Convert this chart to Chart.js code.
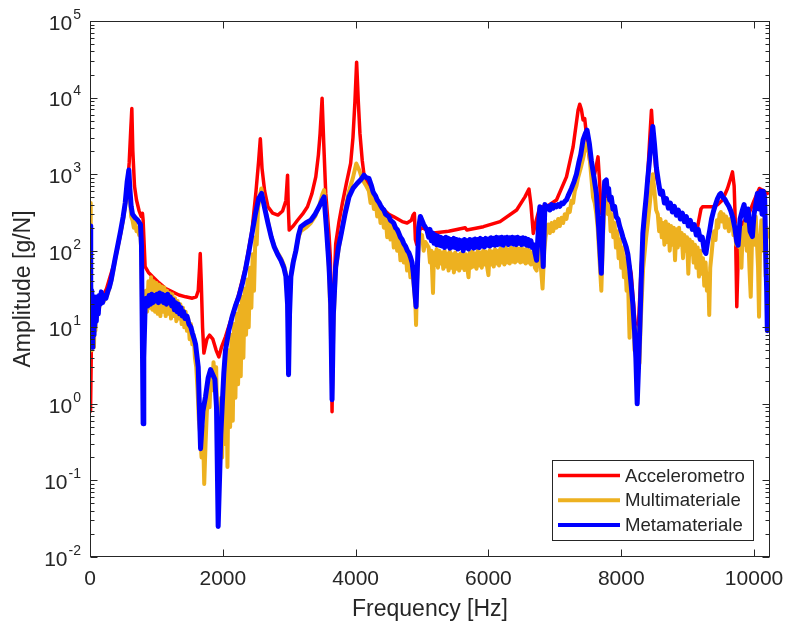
<!DOCTYPE html>
<html>
<head>
<meta charset="utf-8">
<script src="https://cdn.jsdelivr.net/npm/chart.js@4.4.1/dist/chart.umd.min.js"></script>
<style>
  html, body { margin: 0; padding: 0; background: #fff; }
</style>
</head>
<body>
<canvas id="myChart" width="785" height="628"></canvas>
<script>
// [frequency Hz, amplitude g/N]
const accData = [
  [2, 2], [8, 0.8], [20, 5], [35, 20], [60, 22], [100, 22], [150, 24], [200, 26], [250, 32], [300, 45], [350, 62], [400, 95], [450, 150], [500, 260], [550, 520], [590, 1400], [615, 4000], [630, 7200], [645, 2000], [670, 700], [700, 460], [740, 330], [770, 280], [790, 307], [800, 250], [830, 62],
  [880, 52], [940, 46], [1040, 38], [1140, 32], [1240, 29], [1340, 26.4], [1440, 25], [1540, 24], [1600, 25], [1630, 30], [1650, 60], [1660, 92], [1675, 40], [1695, 10], [1715, 4.6], [1760, 7], [1800, 7.9], [1850, 7], [1900, 5], [1940, 4.1], [1980, 5.5], [2040, 7.5],
  [2140, 14], [2240, 27], [2340, 60], [2440, 186], [2500, 600], [2540, 1500], [2565, 2900], [2590, 1200], [2630, 600], [2680, 375], [2750, 310], [2830, 292], [2900, 330], [2950, 450], [2975, 970], [2985, 400], [3000, 186], [3060, 210], [3125, 250], [3200, 300], [3275, 375], [3340, 550],
  [3400, 920], [3440, 1800], [3465, 3400], [3495, 9800], [3520, 2500], [3550, 560], [3600, 160], [3620, 80], [3645, 0.79], [3665, 20], [3700, 123], [3750, 240], [3800, 415], [3860, 750], [3925, 1380], [3960, 3000], [3990, 9000], [4015, 29000], [4040, 9000], [4065, 3400], [4100, 1500],
  [4125, 1000], [4200, 700], [4300, 480], [4400, 360], [4500, 300], [4575, 277], [4700, 240], [4775, 230], [4840, 250], [4865, 292], [4885, 307], [4900, 140], [4920, 120], [4950, 180], [5000, 200], [5175, 170], [5400, 180], [5650, 200], [5675, 186], [5925, 206], [6175, 240], [6425, 340],
  [6550, 505], [6610, 640], [6640, 400], [6675, 168], [6720, 250], [6775, 375], [6875, 375], [7025, 460], [7175, 920], [7275, 2270], [7350, 6840], [7375, 8200], [7400, 7000], [7425, 5100], [7450, 5300], [7480, 3000], [7525, 1500], [7600, 1000], [7650, 1680], [7670, 900], [7700, 307],
  [7750, 600], [7850, 400], [7950, 250], [8050, 130], [8150, 50], [8240, 5], [8300, 60], [8380, 500], [8430, 3000], [8455, 6840], [8480, 3000], [8530, 920], [8600, 550], [8700, 400], [8850, 300], [9000, 230], [9100, 190], [9150, 206], [9200, 350], [9225, 375], [9375, 375], [9450, 400],
  [9525, 460], [9600, 650], [9650, 900], [9675, 1070], [9700, 700], [9720, 200], [9740, 18.6], [9760, 80], [9800, 206], [9925, 307], [10000, 450], [10080, 650], [10150, 600], [10200, 560]
];

const multiData = [
  [3, 420], [8, 30], [14, 8], [20, 25], [27, 5], [34, 20], [42, 7], [50, 22], [60, 5.5], [70, 18], [82, 9], [95, 20], [110, 14], [125, 22], [140, 18], [155, 25], [170, 22], [190, 24], [210, 22], [240, 25], [270, 28], [290, 32], [320, 40], [350, 55], [380, 78], [420, 115], [460, 170],
  [500, 260], [530, 400], [560, 700], [585, 900], [600, 500], [620, 280], [640, 250], [660, 200], [680, 230], [700, 180], [720, 200], [740, 160], [760, 170], [775, 80], [790, 8], [805, 3], [820, 15],
  [840, 30], [860, 16], [880, 40], [900, 18], [920, 45], [940, 17], [960, 40], [980, 16], [1000, 38], [1020, 15], [1040, 36], [1060, 14], [1080, 34], [1100, 16], [1120, 33], [1140, 14], [1160, 30], [1180, 15], [1200, 28], [1220, 13], [1240, 27], [1260, 14], [1280, 24], [1300, 12],
  [1320, 22], [1340, 13], [1360, 20], [1380, 11], [1400, 18], [1420, 10], [1440, 16], [1460, 9], [1480, 13], [1500, 7], [1520, 11], [1540, 6], [1560, 8], [1580, 4], [1600, 3],
  [1620, 1.5], [1640, 0.6], [1660, 0.4], [1680, 0.2], [1700, 0.5], [1720, 0.09], [1740, 0.3], [1760, 0.8], [1780, 1.5], [1800, 0.9], [1820, 2.5], [1840, 1.5], [1860, 3.5], [1880, 2], [1900, 3], [1915, 0.6], [1935, 0.2], [1955, 0.3], [1975, 1.2], [1990, 0.2], [2010, 2], [2030, 0.3],
  [2050, 3.5], [2070, 0.15], [2090, 5], [2110, 0.5], [2130, 8], [2150, 0.6], [2170, 11], [2190, 1.2], [2210, 15], [2230, 1.8], [2250, 19], [2270, 2.3], [2290, 25], [2310, 4], [2330, 32], [2350, 8], [2370, 42], [2390, 10], [2410, 60], [2430, 18], [2450, 90], [2470, 30], [2490, 150],
  [2510, 120], [2530, 350], [2555, 500], [2580, 650], [2630, 380], [2680, 240], [2730, 150], [2775, 115], [2825, 95], [2875, 80], [2920, 65], [2950, 50], [2975, 25], [2990, 5], [3010, 25], [3030, 50], [3060, 75], [3100, 100], [3140, 150], [3175, 180], [3250, 200], [3325, 230],
  [3390, 280], [3450, 380], [3500, 550], [3525, 620], [3560, 250], [3600, 50], [3625, 10], [3645, 1.5], [3665, 10], [3700, 55], [3740, 100], [3775, 150], [3840, 330], [3900, 600], [3960, 900], [4010, 1380], [4060, 1100], [4100, 850], [4160, 700], [4200, 600],
  [4225, 420], [4250, 550], [4275, 350], [4300, 480], [4325, 280], [4350, 390], [4375, 230], [4400, 330], [4425, 200], [4450, 300], [4475, 150], [4500, 250], [4525, 140], [4550, 215], [4575, 110], [4600, 190], [4625, 100], [4650, 150], [4675, 75], [4700, 120], [4725, 70], [4750, 100],
  [4775, 55], [4800, 80], [4825, 45], [4850, 60], [4875, 35], [4900, 20], [4910, 10.7], [4925, 40], [4940, 80], [4960, 180], [4975, 150], [5000, 160], [5025, 100], [5050, 130], [5075, 120],
  [5100, 110], [5120, 70], [5140, 100], [5165, 28], [5180, 95], [5200, 65], [5220, 105], [5240, 60], [5260, 100], [5280, 68], [5300, 95], [5320, 58], [5340, 100], [5360, 62], [5380, 92], [5400, 55], [5420, 98], [5440, 60], [5460, 90], [5480, 52], [5500, 95], [5520, 58], [5540, 88],
  [5560, 55], [5580, 92], [5600, 60], [5620, 95], [5640, 56], [5660, 90], [5680, 62], [5700, 45], [5720, 95], [5740, 60], [5760, 98], [5780, 62], [5800, 92], [5820, 58], [5840, 100], [5860, 64], [5880, 95], [5900, 60], [5920, 100], [5940, 66], [5960, 98], [5980, 62], [6000, 48],
  [6020, 102], [6040, 66], [6060, 98], [6080, 62], [6100, 105], [6120, 68], [6140, 100], [6160, 64], [6180, 108], [6200, 70], [6220, 102], [6240, 66], [6260, 110], [6280, 70], [6300, 104], [6320, 68], [6340, 110], [6360, 72], [6380, 106], [6400, 70], [6420, 112], [6440, 74],
  [6460, 106], [6480, 70], [6500, 110], [6520, 72], [6540, 104], [6560, 68], [6580, 108], [6600, 70], [6620, 100], [6640, 66], [6660, 95], [6680, 80], [6700, 60], [6725, 55], [6745, 90], [6760, 130], [6790, 60], [6815, 32], [6840, 100], [6860, 150],
  [6875, 180], [6900, 220], [6925, 170], [6950, 230], [6975, 180], [7000, 240], [7025, 200], [7050, 260], [7075, 210], [7100, 270], [7125, 230], [7150, 300], [7175, 260], [7200, 350], [7225, 320], [7250, 450], [7275, 420], [7300, 600], [7325, 700], [7350, 900], [7390, 1200],
  [7425, 1600], [7460, 2200], [7485, 2500], [7520, 1800], [7550, 900], [7575, 500], [7600, 420], [7625, 300], [7645, 200], [7660, 120], [7680, 60], [7700, 30], [7725, 150], [7750, 450], [7775, 460],
  [7800, 300], [7820, 380], [7840, 180], [7860, 300], [7880, 150], [7900, 230], [7920, 110], [7940, 180], [7960, 80], [7980, 140], [8000, 60], [8020, 110], [8040, 45], [8060, 80], [8080, 30], [8100, 50], [8115, 15], [8125, 7.3], [8140, 25], [8160, 10], [8180, 18], [8200, 5],
  [8220, 10], [8240, 4], [8260, 8], [8275, 3.4], [8290, 10], [8310, 25], [8330, 60], [8350, 90], [8375, 150], [8400, 230], [8440, 500], [8475, 1000], [8500, 600], [8525, 340],
  [8550, 300], [8570, 180], [8590, 260], [8610, 150], [8630, 230], [8650, 120], [8670, 240], [8690, 130], [8710, 220], [8730, 100], [8750, 210], [8770, 120], [8790, 200], [8810, 75], [8830, 190], [8850, 110], [8870, 200], [8890, 120], [8910, 170], [8930, 80], [8950, 160], [8970, 100],
  [8990, 150], [9010, 50], [9030, 140], [9050, 90], [9070, 130], [9090, 70], [9110, 120], [9130, 60], [9150, 110], [9170, 46], [9190, 100], [9210, 50], [9230, 80], [9250, 35], [9270, 70], [9290, 30], [9310, 50], [9325, 14.5], [9340, 60], [9360, 90], [9380, 140], [9400, 180],
  [9420, 138], [9440, 250], [9460, 200], [9480, 300], [9500, 320], [9520, 240], [9540, 300], [9560, 200], [9580, 280], [9600, 240], [9620, 180], [9640, 260], [9660, 200], [9675, 280], [9690, 160], [9710, 220], [9730, 120], [9750, 200], [9775, 112], [9790, 180], [9810, 60],
  [9830, 200], [9850, 120], [9870, 230], [9890, 100], [9910, 200], [9930, 60], [9950, 25], [9970, 150], [9990, 250], [10010, 120], [10025, 280], [10040, 150], [10060, 60], [10075, 13.7], [10090, 120], [10110, 250], [10125, 230], [10140, 100], [10160, 300], [10175, 46], [10190, 200], [10200, 150]
];

const metaData = [
  [3, 210], [8, 12], [14, 40], [20, 6], [27, 30], [34, 5.5], [42, 22], [50, 8], [60, 25], [70, 10], [82, 22], [95, 12], [110, 25], [125, 15], [140, 26], [155, 20], [170, 29], [190, 21], [210, 26], [240, 24], [270, 30], [290, 33], [320, 42], [350, 58], [380, 80], [420, 120], [460, 180],
  [500, 280], [530, 420], [560, 800], [585, 1130], [600, 650], [620, 380], [640, 300], [680, 270], [720, 250], [760, 220], [775, 120], [790, 5], [800, 0.55], [810, 4],
  [830, 18.6], [850, 24], [870, 19], [890, 26], [910, 20], [930, 27], [950, 21], [970, 26], [990, 22], [1010, 27], [1030, 21], [1050, 28], [1070, 22], [1090, 27], [1110, 21], [1130, 26], [1150, 20], [1170, 27], [1190, 21], [1210, 25], [1230, 19], [1250, 23], [1270, 17], [1290, 21],
  [1310, 16], [1330, 20], [1350, 15], [1370, 18], [1390, 14], [1410, 16], [1430, 13], [1460, 14], [1490, 11], [1520, 10], [1540, 8.5], [1570, 7], [1590, 6], [1630, 3], [1665, 0.26], [1700, 0.8], [1740, 1.25], [1780, 2.2], [1815, 2.8], [1850, 2.4], [1880, 2.1], [1905, 0.9],
  [1930, 0.025], [1950, 0.1], [1970, 0.4], [1990, 0.92], [2015, 2.5], [2040, 5], [2090, 9], [2140, 13.7], [2190, 19], [2240, 25], [2290, 36], [2340, 56], [2390, 95], [2440, 168], [2490, 300], [2540, 480], [2585, 560], [2630, 360], [2680, 228], [2730, 150], [2775, 112], [2825, 90],
  [2875, 75], [2920, 60], [2950, 46], [2975, 20], [2990, 2.4], [3005, 15], [3025, 46], [3060, 70], [3100, 100], [3140, 160], [3175, 206], [3250, 230], [3325, 250], [3390, 300], [3450, 375], [3500, 460], [3525, 505], [3560, 200], [3600, 62], [3625, 20], [3645, 1.13], [3665, 15],
  [3700, 62], [3740, 110], [3775, 153], [3840, 300], [3900, 505], [3960, 650], [4025, 760], [4080, 850], [4125, 970], [4160, 900], [4200, 880], [4240, 700], [4260, 600], [4275, 560], [4300, 520], [4325, 460], [4350, 430], [4375, 390], [4400, 360], [4425, 340], [4450, 300],
  [4475, 290], [4500, 280], [4525, 250], [4550, 240], [4575, 228], [4600, 200], [4625, 190], [4650, 170], [4675, 150], [4700, 140], [4725, 124], [4750, 115], [4780, 100], [4800, 95], [4825, 83], [4850, 70], [4870, 50], [4890, 30], [4910, 18.6], [4930, 60], [4950, 200], [4975, 280],
  [5025, 220], [5075, 186], [5100, 150], [5120, 190], [5140, 135], [5160, 170], [5180, 125], [5200, 160], [5220, 120], [5240, 155], [5260, 118], [5280, 150], [5300, 115], [5320, 145], [5340, 110], [5360, 150], [5380, 115], [5400, 145], [5420, 108], [5440, 140], [5460, 112],
  [5480, 145], [5500, 110], [5520, 140], [5540, 105], [5560, 138], [5580, 110], [5600, 135], [5620, 100], [5640, 140], [5660, 110], [5680, 135], [5700, 105], [5720, 140], [5740, 112], [5760, 138], [5780, 108], [5800, 142], [5820, 112], [5840, 140], [5860, 110], [5880, 145],
  [5900, 115], [5920, 140], [5940, 112], [5960, 145], [5980, 118], [6000, 142], [6020, 115], [6040, 148], [6060, 120], [6080, 145], [6100, 118], [6120, 150], [6140, 120], [6160, 148], [6180, 122], [6200, 150], [6220, 118], [6240, 148], [6260, 125], [6280, 150], [6300, 120],
  [6320, 148], [6340, 125], [6360, 150], [6380, 122], [6400, 148], [6420, 120], [6440, 150], [6460, 125], [6480, 145], [6500, 120], [6520, 148], [6540, 122], [6560, 145], [6580, 118], [6600, 140], [6620, 115], [6640, 135], [6660, 110], [6680, 120], [6700, 95], [6725, 75],
  [6760, 250], [6775, 375], [6800, 200], [6825, 62], [6850, 400], [6875, 350], [6900, 380], [6925, 340], [6950, 400], [6975, 360], [7000, 390], [7025, 375], [7050, 400], [7075, 380], [7100, 420], [7125, 410], [7150, 440], [7175, 460], [7200, 520], [7250, 650], [7290, 800],
  [7325, 1000], [7360, 1400], [7390, 1800], [7425, 2800], [7460, 3400], [7485, 3750], [7520, 2500], [7550, 1500], [7590, 900], [7625, 560], [7660, 200], [7700, 50.6], [7725, 300], [7750, 800], [7775, 840], [7790, 600], [7810, 650], [7825, 460], [7850, 500], [7875, 350],
  [7900, 380], [7925, 277], [7950, 260], [7975, 210], [8000, 180], [8025, 150], [8050, 130], [8075, 112], [8100, 90], [8125, 60], [8150, 35], [8175, 20], [8200, 9], [8220, 4], [8240, 1.0], [8260, 3], [8280, 10], [8300, 40], [8325, 168], [8350, 300], [8375, 500], [8400, 900],
  [8425, 1500], [8450, 2600], [8475, 4200], [8500, 2500], [8530, 1200], [8560, 800], [8590, 550], [8620, 600], [8650, 420], [8680, 480], [8710, 360], [8740, 420], [8770, 320], [8800, 380], [8830, 290], [8860, 340], [8890, 260], [8920, 310], [8950, 240], [8980, 280], [9010, 210],
  [9040, 250], [9070, 190], [9100, 220], [9130, 160], [9160, 190], [9190, 140], [9220, 150], [9250, 100], [9275, 92], [9300, 130], [9330, 180], [9360, 260], [9390, 330], [9420, 400], [9450, 480], [9480, 540], [9500, 560], [9530, 500], [9560, 470], [9590, 420], [9620, 380],
  [9650, 330], [9680, 270], [9710, 200], [9740, 130], [9760, 118], [9790, 260], [9820, 330], [9850, 400], [9880, 250], [9910, 350], [9940, 180], [9975, 153], [10000, 300], [10030, 420], [10050, 560], [10075, 350], [10100, 600], [10120, 300], [10140, 600], [10160, 500], [10175, 100],
  [10190, 30], [10200, 9]
];

const seriesNames = ["Accelerometro", "Multimateriale", "Metamateriale"];
const seriesColors = ["#FF0000", "#EDB120", "#0000FF"];
const xTickValues = [0, 2000, 4000, 6000, 8000, 10000];
const yExponents = [-2, -1, 0, 1, 2, 3, 4, 5];

const toPoints = (arr) => arr.map(([f, a]) => ({ x: f, y: a }));
const axisColor = "#262626";
const fontFam = "'Liberation Sans', Arial, sans-serif";

// box, inward ticks, y labels with exponents, legend
const matlabAxes = {
  id: "matlabAxes",
  afterDraw(chart) {
    const { ctx, chartArea, scales } = chart;
    const { left, right, top, bottom } = chartArea;
    const L = Math.round(left) + 0.5, R = Math.round(right) - 0.5;
    const T = Math.round(top) + 0.5, B = Math.round(bottom) - 0.5;
    ctx.save();
    ctx.strokeStyle = axisColor;
    ctx.lineWidth = 1;
    ctx.strokeRect(L, T, R - L, B - T);
    ctx.beginPath();
    xTickValues.forEach((v) => {
      const px = Math.round(scales.x.getPixelForValue(v)) + 0.5;
      ctx.moveTo(px, B); ctx.lineTo(px, B - 7);
      ctx.moveTo(px, T); ctx.lineTo(px, T + 7);
    });
    yExponents.forEach((e) => {
      const base = Math.pow(10, e);
      const py = Math.round(scales.y.getPixelForValue(base)) + 0.5;
      ctx.moveTo(L, py); ctx.lineTo(L + 7, py);
      ctx.moveTo(R, py); ctx.lineTo(R - 7, py);
      if (e < 5) {
        for (let m = 2; m <= 9; m++) {
          const pm = Math.round(scales.y.getPixelForValue(m * base)) + 0.5;
          ctx.moveTo(L, pm); ctx.lineTo(L + 4, pm);
          ctx.moveTo(R, pm); ctx.lineTo(R - 4, pm);
        }
      }
    });
    ctx.stroke();

    // y tick labels 10^n
    ctx.fillStyle = axisColor;
    ctx.textBaseline = "middle";
    ctx.textAlign = "left";
    yExponents.forEach((e) => {
      const py = scales.y.getPixelForValue(Math.pow(10, e));
      const expText = String(e);
      ctx.font = "14px " + fontFam;
      const ew = ctx.measureText(expText).width;
      ctx.font = "21px " + fontFam;
      const bw = ctx.measureText("10").width;
      const xr = left - 9;
      ctx.fillText("10", xr - ew - bw - 1, py + 3);
      ctx.font = "14px " + fontFam;
      ctx.fillText(expText, xr - ew, py - 6);
    });

    // legend
    const bx = 552.5, by = 460.5, bw2 = 201, bh = 80;
    ctx.fillStyle = "#fff";
    ctx.fillRect(bx, by, bw2, bh);
    ctx.strokeStyle = axisColor;
    ctx.lineWidth = 1;
    ctx.strokeRect(bx, by, bw2, bh);
    chart.data.datasets.forEach((ds, i) => {
      const ry = 475.5 + i * 24.7;
      ctx.strokeStyle = ds.borderColor;
      ctx.lineWidth = i === 0 ? 3.5 : 4;
      ctx.beginPath();
      ctx.moveTo(558, ry); ctx.lineTo(620, ry);
      ctx.stroke();
      ctx.fillStyle = axisColor;
      ctx.font = "18.6px " + fontFam;
      ctx.textBaseline = "middle";
      ctx.fillText(ds.label, 625, ry + 1);
    });
    ctx.restore();
  },
};

const ctx1 = document.getElementById("myChart").getContext("2d");
const myChart = new Chart(ctx1, {
  type: "line",
  data: {
    datasets: [
      { label: seriesNames[0], data: toPoints(accData), borderColor: seriesColors[0], borderWidth: 3.5, order: 3 },
      { label: seriesNames[1], data: toPoints(multiData), borderColor: seriesColors[1], borderWidth: 4, order: 2 },
      { label: seriesNames[2], data: toPoints(metaData), borderColor: seriesColors[2], borderWidth: 5, order: 1 },
    ],
  },
  options: {
    responsive: false,
    animation: false,
    layout: { padding: { left: 0, right: 15, top: 21, bottom: 0 } },
    elements: {
      point: { radius: 0 },
      line: { tension: 0, borderJoinStyle: "round", borderCapStyle: "round", fill: false },
    },
    plugins: {
      legend: { display: false },
      tooltip: { enabled: false },
    },
    scales: {
      x: {
        type: "linear",
        min: 0,
        max: 10240,
        afterBuildTicks: (scale) => { scale.ticks = xTickValues.map((v) => ({ value: v })); },
        afterFit: (scale) => {
          scale.height = 71;
          scale.paddingLeft = 0;
          scale.paddingRight = 0;
        },
        grid: { display: false, drawTicks: false },
        border: { display: false },
        ticks: {
          autoSkip: false,
          maxRotation: 0,
          padding: 10,
          color: axisColor,
          font: { family: fontFam, size: 21 },
          callback: (v) => String(v),
        },
        title: {
          display: true,
          text: "Frequency [Hz]",
          color: axisColor,
          padding: { top: 0, bottom: 5 },
          font: { family: fontFam, size: 23 },
        },
      },
      y: {
        type: "logarithmic",
        min: 0.01,
        max: 100000,
        afterFit: (scale) => { scale.width = 90; },
        grid: { display: false, drawTicks: false },
        border: { display: false },
        ticks: { display: false },
        title: {
          display: true,
          text: "Amplitude [g/N]",
          color: axisColor,
          padding: { top: 10, bottom: 0 },
          font: { family: fontFam, size: 23 },
        },
      },
    },
  },
  plugins: [matlabAxes],
});
</script>
</body>
</html>
